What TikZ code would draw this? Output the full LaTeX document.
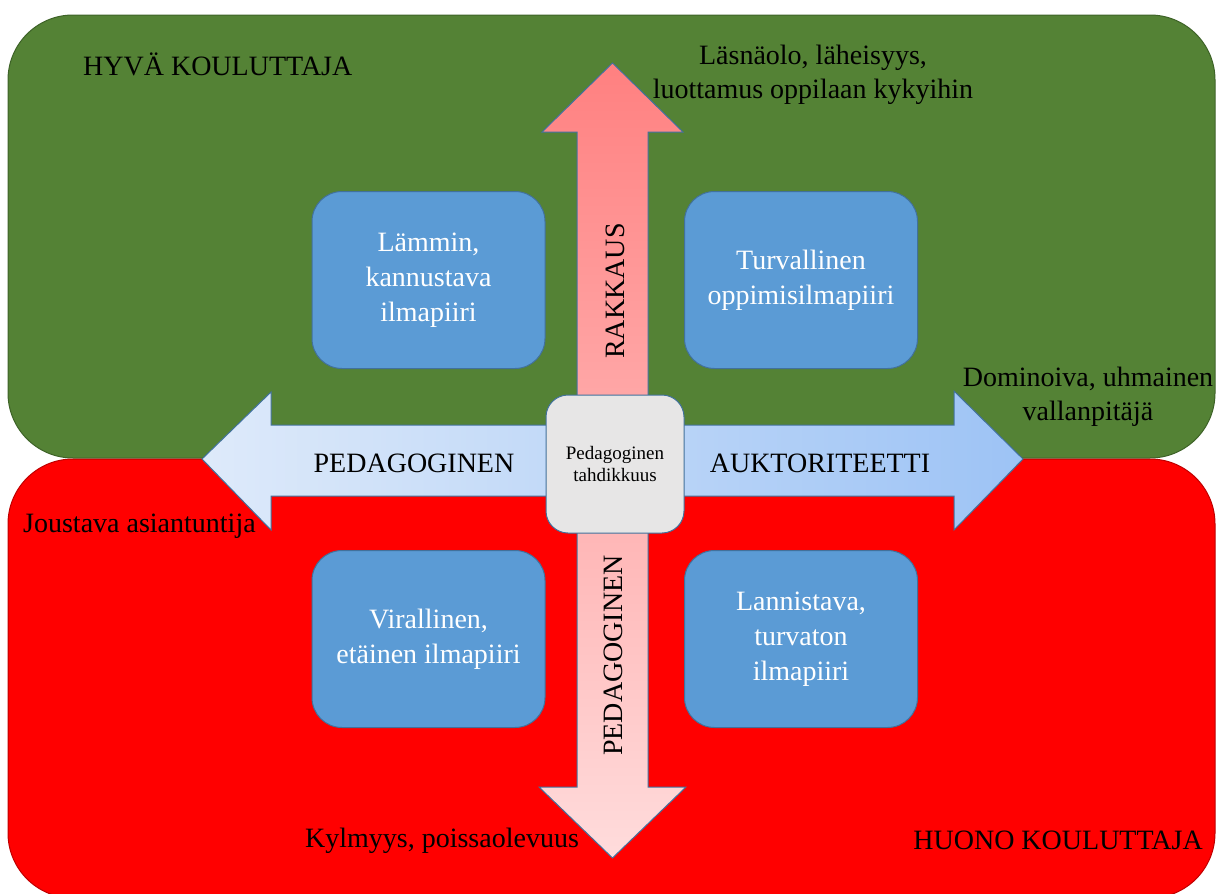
\documentclass[tikz,border=0pt]{standalone}
\usepackage{fontspec}
\setmainfont{Liberation Serif}
\definecolor{goodgreen}{HTML}{548235}
\definecolor{goodedge}{HTML}{3E6328}
\definecolor{badred}{HTML}{FF0000}
\definecolor{badedge}{HTML}{C00000}
\definecolor{tileblue}{HTML}{5B9BD5}
\definecolor{tileedge}{HTML}{41719C}
\definecolor{hubgray}{HTML}{E7E6E6}
\definecolor{lovetop}{HTML}{FF8080}
\definecolor{lovebottom}{HTML}{FFDCDC}
\definecolor{authleft}{HTML}{DEEAFA}
\definecolor{authright}{HTML}{9DC3F5}
\begin{document}
\begin{tikzpicture}[x=1pt,y=-1pt,
  zone/.style={line width=1pt, rounded corners=65pt},
  tile/.style={draw=tileedge, fill=tileblue, line width=1pt, rounded corners=30pt,
    minimum width=233pt, minimum height=177pt, text=white, align=center,
    font=\fontsize{28}{35}\selectfont},
  hub/.style={draw=tileedge, fill=hubgray, line width=1pt, rounded corners=22pt,
    minimum width=138pt, minimum height=138pt, align=center,
    font=\fontsize{19}{22}\selectfont},
  label/.style={inner sep=0pt, align=center, font=\fontsize{28}{34}\selectfont},
  axis/.style={draw=tileedge, line width=1pt, line join=miter}]
\useasboundingbox (0,0) rectangle (1216,894);
\clip (0,0) rectangle (1216,894);

% the two halves: good and bad trainer
\draw[zone, draw=goodedge, fill=goodgreen] (8,15) rectangle (1215,458);
\draw[zone, draw=badedge, fill=badred] (8,459) rectangle (1215,898);

% horizontal double arrow (authority axis)
\coordinate (wtip) at (202,459);
\coordinate (etip) at (1023,459);
\draw[axis, left color=authleft, right color=authright]
  (wtip) -- (271,392) -- (271,425) -- (954,425) -- (954,391) -- (etip)
  -- (954,530) -- (954,496) -- (271,496) -- (271,530) -- cycle;

% vertical double arrow (love axis)
\coordinate (ntip) at (612.5,63);
\coordinate (stip) at (612.5,858);
\draw[axis, top color=lovetop, bottom color=lovebottom]
  (ntip) -- (683,132) -- (648,132) -- (648,787) -- (686,787) -- (stip)
  -- (539,787) -- (577,787) -- (577,132) -- (542,132) -- cycle;

% the four climates
\node[tile] (warm)   at (428.5,280) {Lämmin,\\kannustava\\ilmapiiri};
\node[tile] (safe)   at (801,280)   {Turvallinen\\oppimisilmapiiri};
\node[tile] (formal) at (428.5,639) {Virallinen,\\etäinen ilmapiiri};
\node[tile] (unsafe) at (801,639)   {Lannistava,\\turvaton\\ilmapiiri};

% centre
\node[hub] (tact) at (615,464) {Pedagoginen\\tahdikkuus};

% axis labels
\node[label, rotate=90] (love) at (615.5,291) {RAKKAUS};
\node[label, rotate=90] (pedv) at (613.5,655.5) {PEDAGOGINEN};
\node[label, anchor=base] (pedh) at (414,472) {PEDAGOGINEN};
\node[label, anchor=base] (auth) at (820,472) {AUKTORITEETTI};

% pole descriptions (base = baseline of the last line)
\node[label, anchor=base west] (good) at (83,75) {HYVÄ KOULUTTAJA};
\node[label, anchor=base east] (bad) at (1203,849) {HUONO KOULUTTAJA};
\node[label, anchor=base] (near) at (813,98) {Läsnäolo, läheisyys,\\luottamus oppilaan kykyihin};
\node[label, anchor=base] (dom) at (1088,420) {Dominoiva, uhmainen\\vallanpitäjä};
\node[label, anchor=base west] (flex) at (23,532) {Joustava asiantuntija};
\node[label, anchor=base] (cold) at (442,847) {Kylmyys, poissaolevuus};
\end{tikzpicture}
\end{document}
